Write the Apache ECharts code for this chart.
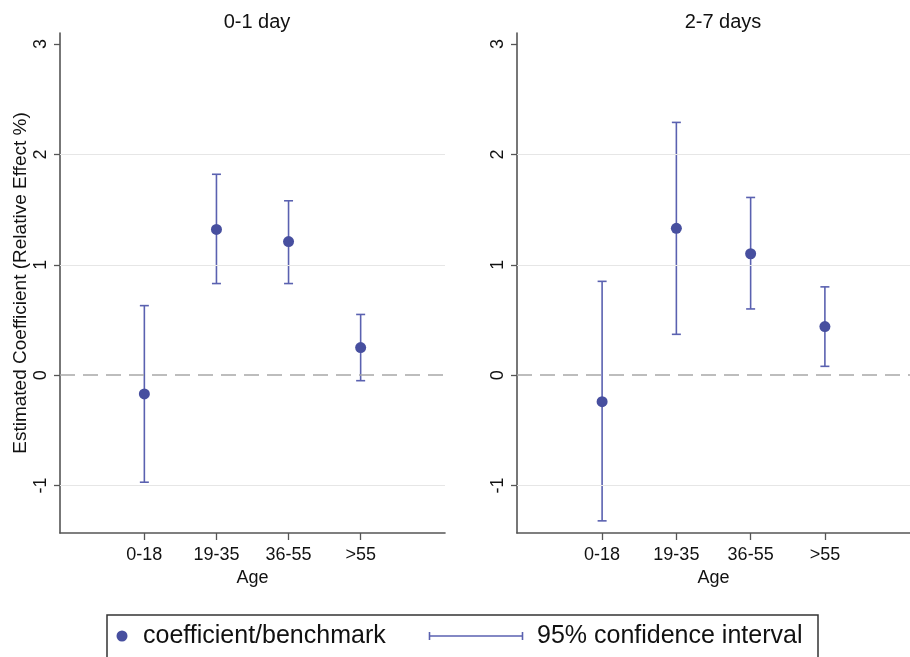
<!DOCTYPE html>
<html>
<head>
<meta charset="utf-8">
<script src="https://cdn.jsdelivr.net/npm/echarts@6/dist/echarts.min.js"></script>
<style>
  html, body { margin: 0; padding: 0; background: #fff; }
  #chart { width: 910px; height: 657px; }
</style>
</head>
<body>
<div id="chart"></div>
<script>
// age groups on the x axis (positions 1..4)
const ageGroups = ['0-18', '19-35', '36-55', '>55'];
const agePos = [1, 2, 3, 4];

// panel 1: 0-1 day
const coefDay01 = [-0.17, 1.32, 1.21, 0.25];
const lowDay01 = [-0.97, 0.83, 0.83, -0.05];
const highDay01 = [0.63, 1.82, 1.58, 0.55];

// panel 2: 2-7 days
const coefDay27 = [-0.24, 1.33, 1.10, 0.44];
const lowDay27 = [-1.32, 0.37, 0.60, 0.08];
const highDay27 = [0.85, 2.29, 1.61, 0.80];

const yTicks = [-1, 0, 1, 2, 3];
const gridValues = [-1, 1, 2];
const panelTitles = ['0-1 day', '2-7 days'];

const dotColor = '#474f9f';
const ciColor = '#5a61b0';
const axisColor = '#555';
const font = 'Liberation Sans, Arial, sans-serif';

const chart = echarts.init(document.getElementById('chart'));

function errorBar(params, api) {
  const x = api.value(0);
  const lo = api.coord([x, api.value(1)]);
  const hi = api.coord([x, api.value(2)]);
  const w = 4.5;
  const style = { stroke: ciColor, lineWidth: 1.6 };
  return {
    type: 'group',
    children: [
      { type: 'line', shape: { x1: lo[0], y1: lo[1], x2: hi[0], y2: hi[1] }, style: style },
      { type: 'line', shape: { x1: lo[0] - w, y1: lo[1], x2: lo[0] + w, y2: lo[1] }, style: style },
      { type: 'line', shape: { x1: hi[0] - w, y1: hi[1], x2: hi[0] + w, y2: hi[1] }, style: style }
    ]
  };
}

function xAxisFor(idx, min, max) {
  return {
    type: 'value', gridIndex: idx, min: min, max: max,
    name: 'Age', nameLocation: 'middle', nameGap: 31,
    nameTextStyle: { fontSize: 18, color: '#111', fontFamily: font },
    axisLine: { show: true, onZero: false, lineStyle: { color: axisColor, width: 1.6 } },
    axisTick: { show: true, length: 7, customValues: agePos, lineStyle: { color: axisColor, width: 1.3 } },
    axisLabel: {
      customValues: agePos, margin: 13, fontSize: 18, color: '#111', fontFamily: font,
      formatter: v => ageGroups[Math.round(v) - 1] || ''
    },
    splitLine: { show: false }
  };
}

function yAxisFor(idx, withName) {
  return {
    type: 'value', gridIndex: idx, min: -1.43, max: 3.1,
    name: withName ? 'Estimated Coefficient (Relative Effect %)' : '',
    nameLocation: 'middle', nameGap: 30,
    nameTextStyle: { fontSize: 19, color: '#111', fontFamily: font },
    axisLine: { show: true, onZero: false, lineStyle: { color: axisColor, width: 1.6 } },
    axisTick: { show: true, length: 6, customValues: yTicks, lineStyle: { color: axisColor, width: 1.3 } },
    axisLabel: { customValues: yTicks, rotate: 90, margin: 10, fontSize: 18, color: '#111', fontFamily: font },
    splitLine: { show: false }
  };
}

function refLines() {
  const data = gridValues.map(v => ({ yAxis: v, lineStyle: { color: '#e6e6e6', width: 1, type: 'solid' } }));
  data.push({ yAxis: 0, lineStyle: { color: '#a8a8a8', width: 1.6, type: [15, 8] } });
  return { silent: true, symbol: 'none', label: { show: false }, animation: false, data: data };
}

function panelSeries(idx, coef, low, high) {
  return [
    {
      type: 'custom', xAxisIndex: idx, yAxisIndex: idx,
      renderItem: errorBar,
      encode: { x: 0, y: [1, 2] },
      data: agePos.map((p, i) => [p, low[i], high[i]]),
      z: 2
    },
    {
      type: 'scatter', xAxisIndex: idx, yAxisIndex: idx,
      symbol: 'circle', symbolSize: 11,
      itemStyle: { color: dotColor, opacity: 1 },
      data: agePos.map((p, i) => [p, coef[i]]),
      markLine: refLines(),
      z: 3
    }
  ];
}

const option = {
  backgroundColor: '#fff',
  animation: false,
  title: [
    { text: panelTitles[0], left: 252, top: 7, textAlign: 'center',
      textStyle: { fontSize: 20, fontWeight: 'normal', color: '#111', fontFamily: font } },
    { text: panelTitles[1], left: 718, top: 7, textAlign: 'center',
      textStyle: { fontSize: 20, fontWeight: 'normal', color: '#111', fontFamily: font } }
  ],
  grid: [
    { left: 60, top: 33, width: 385, height: 500 },
    { left: 517, top: 33, width: 402, height: 500 }
  ],
  xAxis: [xAxisFor(0, -0.17, 5.17), xAxisFor(1, -0.146, 5.146)],
  yAxis: [yAxisFor(0, true), yAxisFor(1, false)],
  series: [].concat(
    panelSeries(0, coefDay01, lowDay01, highDay01),
    panelSeries(1, coefDay27, lowDay27, highDay27)
  ),
  // legend box, drawn by hand so the two keys can differ in size
  graphic: [
    { type: 'rect', shape: { x: 107, y: 615, width: 711, height: 70 },
      style: { fill: 'none', stroke: '#333', lineWidth: 1.5 } },
    { type: 'circle', shape: { cx: 122, cy: 636, r: 5.5 }, style: { fill: dotColor } },
    { type: 'text', x: 143, y: 636,
      style: { text: 'coefficient/benchmark', font: '25px ' + font, fill: '#111', verticalAlign: 'middle' } },
    { type: 'polyline', shape: { points: [[429, 636], [523, 636]] }, style: { stroke: ciColor, lineWidth: 1.6 } },
    { type: 'line', shape: { x1: 429.5, y1: 632, x2: 429.5, y2: 640 }, style: { stroke: ciColor, lineWidth: 1.6 } },
    { type: 'line', shape: { x1: 522.5, y1: 632, x2: 522.5, y2: 640 }, style: { stroke: ciColor, lineWidth: 1.6 } },
    { type: 'text', x: 537, y: 636,
      style: { text: '95% confidence interval', font: '25px ' + font, fill: '#111', verticalAlign: 'middle' } }
  ]
};

chart.setOption(option);
</script>
</body>
</html>
